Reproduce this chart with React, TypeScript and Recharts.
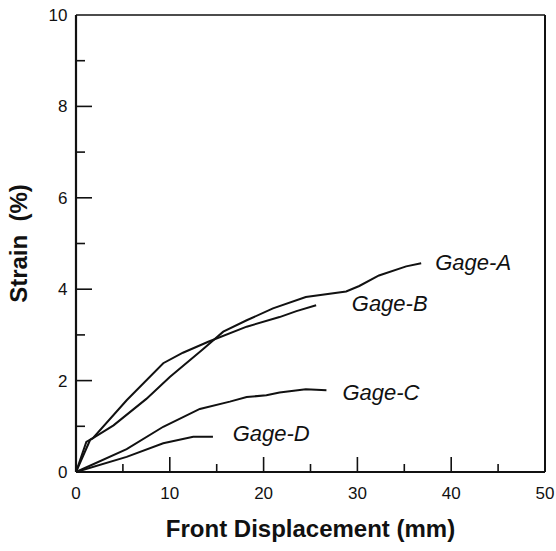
import { LineChart, Line, XAxis, YAxis, ReferenceDot, Label } from "recharts";

const gageAx = [0, 1.5, 4, 7.5, 10, 13.5, 15.7, 18.2, 21, 24.5, 28.8, 30.2, 32.3, 35.2, 36.8];
const gageAy = [0, 0.7, 1.02, 1.6, 2.08, 2.68, 3.07, 3.32, 3.58, 3.83, 3.95, 4.07, 4.3, 4.5, 4.57];
const gageBx = [0, 1.1, 1.8, 5.4, 9.3, 11.4, 14.1, 18.2, 21.7, 23.5, 25.6];
const gageBy = [0, 0.66, 0.74, 1.57, 2.38, 2.61, 2.85, 3.18, 3.39, 3.52, 3.65];
const gageCx = [0, 5.4, 9.3, 13.2, 16.4, 18.2, 20.3, 21.7, 24.5, 26.7];
const gageCy = [0, 0.5, 0.99, 1.38, 1.54, 1.64, 1.68, 1.74, 1.81, 1.79];
const gageDx = [0, 5.4, 9.3, 12.5, 14.6];
const gageDy = [0, 0.33, 0.63, 0.77, 0.77];

const gageNames = ["Gage-A", "Gage-B", "Gage-C", "Gage-D"];

// axis ticks
const xTicks = [0, 5, 10, 15, 20, 25, 30, 35, 40, 45, 50];
const yTicks = [0, 1, 2, 3, 4, 5, 6, 7, 8, 9, 10];
const topTicks = [8.33, 16.67, 25, 33.33, 41.67];
const rightTicks = [1.25, 2.5, 3.75, 5, 6.25, 7.5, 8.75];

// where the curve names sit (data coords, text starts here)
const labelAt = [
  { x: 38.3, y: 4.59 },
  { x: 29.4, y: 3.69 },
  { x: 28.4, y: 1.75 },
  { x: 16.7, y: 0.85 },
];

const zip = (xs: number[], ys: number[]) => xs.map((x, i) => ({ x, y: ys[i] }));
const series = [zip(gageAx, gageAy), zip(gageBx, gageBy), zip(gageCx, gageCy), zip(gageDx, gageDy)];

const FONT = "'Liberation Sans', Arial, Helvetica, sans-serif";
const INK = "#111";

const BottomTick = ({ x, y, payload }: any) => {
  const v = payload.value;
  const major = v % 10 === 0;
  return (
    <g>
      {v > 0 && v < 50 && (
        <line x1={x} x2={x} y1={y} y2={y - (major ? 15 : 8)} stroke={INK} strokeWidth={1.6} />
      )}
      {major && (
        <text x={x} y={y + 27} textAnchor="middle" fontSize={17} fontFamily={FONT} fill={INK}>
          {v}
        </text>
      )}
    </g>
  );
};

const LeftTick = ({ x, y, payload }: any) => {
  const v = payload.value;
  const major = v % 2 === 0;
  return (
    <g>
      {v > 0 && v < 10 && (
        <line x1={x} x2={x + (major ? 16 : 9)} y1={y} y2={y} stroke={INK} strokeWidth={1.6} />
      )}
      {major && (
        <text x={x - 8.5} y={y + 6} textAnchor="end" fontSize={17} fontFamily={FONT} fill={INK}>
          {v}
        </text>
      )}
    </g>
  );
};

const TopTick = ({ x, y, index }: any) => (
  <line x1={x} x2={x} y1={y} y2={y + (index % 2 === 1 ? 16 : 7)} stroke={INK} strokeWidth={1.3} />
);

const RightTick = ({ x, y, index }: any) => (
  <line x1={x} x2={x - (index % 2 === 1 ? 15.5 : 7.5)} y1={y} y2={y} stroke={INK} strokeWidth={1.6} />
);

const YTitle = ({ viewBox }: any) => {
  const cx = viewBox.x + 19;
  const cy = viewBox.y + viewBox.height / 2;
  return (
    <text
      x={cx}
      y={cy}
      transform={`rotate(-90, ${cx}, ${cy})`}
      textAnchor="middle"
      fontSize={24}
      fontWeight="bold"
      fontFamily={FONT}
      fill={INK}
      style={{ whiteSpace: "pre" }}
    >
      {"Strain  (%)"}
    </text>
  );
};

const GageText = (text: string) => ({ viewBox }: any) => (
  <text
    x={viewBox.x}
    y={viewBox.y}
    dy="0.36em"
    fontSize={22}
    fontStyle="italic"
    fontFamily={FONT}
    fill={INK}
  >
    {text}
  </text>
);

const App = () => {
  return (
    <div style={{ position: "absolute", left: 0, top: 0, width: 556, height: 551, fontFamily: FONT }}>
      <LineChart width={556} height={551} margin={{ top: 8, right: 0, bottom: 0, left: 8 }}>
        <XAxis
          xAxisId="b"
          type="number"
          dataKey="x"
          domain={[0, 50]}
          ticks={xTicks}
          interval={0}
          height={79}
          axisLine={{ stroke: INK, strokeWidth: 2 }}
          tickLine={false}
          tickSize={0}
          tickMargin={0}
          tick={(p: any) => <BottomTick {...p} />}
        >
          <Label
            value="Front Displacement (mm)"
            position="insideBottom"
            offset={14}
            style={{ fontSize: 24, fontWeight: "bold", fontFamily: FONT, fill: INK }}
          />
        </XAxis>
        <XAxis
          xAxisId="t"
          orientation="top"
          type="number"
          dataKey="x"
          domain={[0, 50]}
          ticks={topTicks}
          interval={0}
          height={7}
          axisLine={{ stroke: INK, strokeWidth: 1.6 }}
          tickLine={false}
          tickSize={0}
          tickMargin={0}
          tick={(p: any) => <TopTick {...p} />}
        />
        <YAxis
          yAxisId="l"
          type="number"
          domain={[0, 10]}
          ticks={yTicks}
          interval={0}
          width={68}
          axisLine={{ stroke: INK, strokeWidth: 2.2 }}
          tickLine={false}
          tickSize={0}
          tickMargin={0}
          tick={(p: any) => <LeftTick {...p} />}
        >
          <Label content={YTitle} />
        </YAxis>
        <YAxis
          yAxisId="r"
          orientation="right"
          type="number"
          domain={[0, 10]}
          ticks={rightTicks}
          interval={0}
          width={11}
          axisLine={{ stroke: INK, strokeWidth: 2 }}
          tickLine={false}
          tickSize={0}
          tickMargin={0}
          tick={(p: any) => <RightTick {...p} />}
        />
        {series.map((pts, i) => (
          <Line
            key={gageNames[i]}
            xAxisId="b"
            yAxisId="l"
            data={pts}
            dataKey="y"
            type="linear"
            stroke={INK}
            strokeWidth={2}
            dot={false}
            isAnimationActive={false}
          />
        ))}
        {labelAt.map((p, i) => (
          <ReferenceDot
            key={"lbl" + i}
            xAxisId="b"
            yAxisId="l"
            x={p.x}
            y={p.y}
            r={0}
            fill="none"
            stroke="none"
            label={GageText(gageNames[i])}
          />
        ))}
      </LineChart>
    </div>
  );
};

export default App;
